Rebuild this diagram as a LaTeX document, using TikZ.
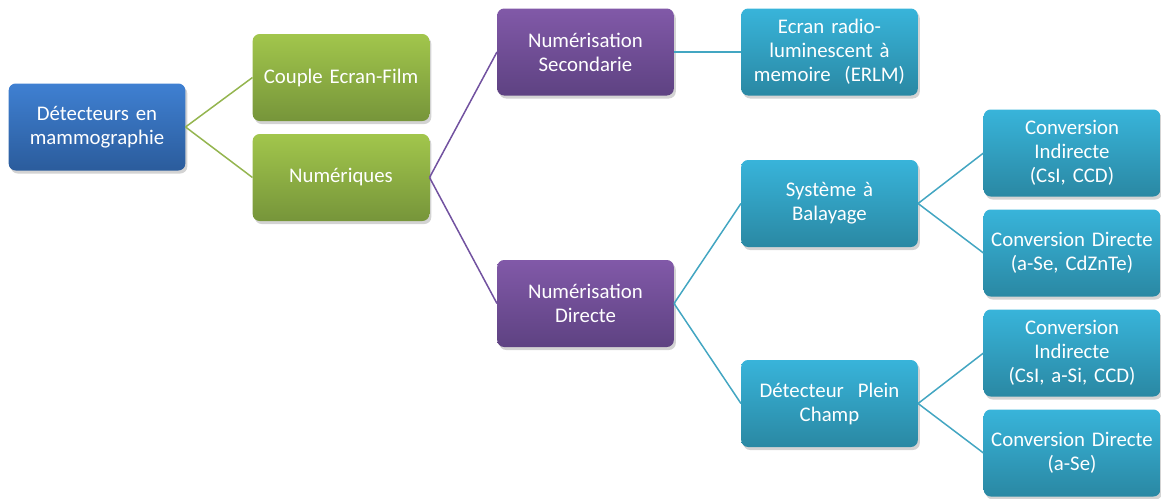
\documentclass[tikz,border=0pt]{standalone}
\usepackage{fontspec}
\setmainfont{Carlito}
\usetikzlibrary{shadows}

\begin{document}
\begin{tikzpicture}[x=1pt,y=-1pt,
	box/.style={rounded corners=7pt,minimum width=175pt,minimum height=87pt,
		text width=170pt,align=center,text=white,
		font=\fontsize{20.8}{24}\selectfont,
		drop shadow={opacity=0.35,shadow xshift=2pt,shadow yshift=-3pt}},
	bluebox/.style={box,top color=blueA,bottom color=blueB},
	greenbox/.style={box,top color=greenA,bottom color=greenB},
	purplebox/.style={box,top color=purpleA,bottom color=purpleB},
	tealbox/.style={box,top color=tealA,bottom color=tealB},
	link/.style={line width=1.5pt}]

\definecolor{blueA}{HTML}{3F80D2}
\definecolor{blueB}{HTML}{2B5C9C}
\definecolor{greenA}{HTML}{A2C64C}
\definecolor{greenB}{HTML}{76953A}
\definecolor{purpleA}{HTML}{8159A8}
\definecolor{purpleB}{HTML}{5E4282}
\definecolor{tealA}{HTML}{38B4DA}
\definecolor{tealB}{HTML}{2A88A3}
\definecolor{greenL}{HTML}{94B54F}
\definecolor{purpleL}{HTML}{7252A0}
\definecolor{tealL}{HTML}{43A6C2}

\useasboundingbox (0,0) rectangle (1161,498);

% level 0 and 1
\node[bluebox] (root) at (97,127) {Détecteurs en\\mammographie};
\node[greenbox] (film) at (341,77.5) {Couple Ecran-Film};
\node[greenbox] (num) at (341,177.5) {Numériques};

% level 2
\node[purplebox] (sec) at (585.5,52) {Numérisation\\Secondarie};
\node[purplebox] (dir) at (585.5,303.5) {Numérisation\\Directe};

% level 3
\node[tealbox] (erlm) at (829.5,52) {Ecran radio-\\luminescent à\\memoire\ \ (ERLM)};
\node[tealbox] (bal) at (829.5,203.5) {Système à\\Balayage};
\node[tealbox] (plein) at (829.5,403.5) {Détecteur\ \ Plein\\Champ};

% level 4
\node[tealbox,minimum width=170pt] (ci1) at (1072,153) {Conversion\\Indirecte\\(CsI, CCD)};
\node[tealbox,minimum width=170pt] (cd1) at (1072,253) {Conversion Directe\\(a-Se, CdZnTe)};
\node[tealbox,minimum width=170pt] (ci2) at (1072,353) {Conversion\\Indirecte\\(CsI, a-Si, CCD)};
\node[tealbox,minimum width=170pt] (cd2) at (1072,453) {Conversion Directe\\(a-Se)};

% links
\foreach \a/\b in {root/film,root/num}{
	\draw[link,color=greenL] (\a.east)--(\b.west);
}
\foreach \a/\b in {num/sec,num/dir}{
	\draw[link,color=purpleL] (\a.east)--(\b.west);
}
\foreach \a/\b in {sec/erlm,dir/bal,dir/plein,bal/ci1,bal/cd1,plein/ci2,plein/cd2}{
	\draw[link,color=tealL] (\a.east)--(\b.west);
}

\end{tikzpicture}
\end{document}
